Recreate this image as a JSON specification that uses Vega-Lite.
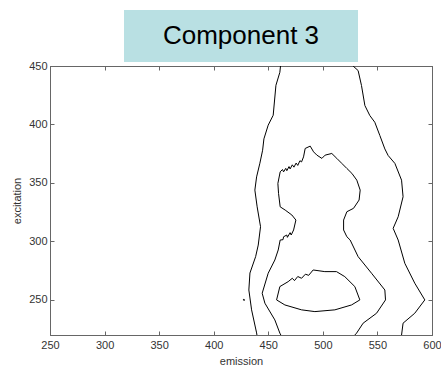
{
  "$schema": "https://vega.github.io/schema/vega-lite/v6.json",
  "padding": {"left": 11, "top": 10, "right": 0, "bottom": 0},
  "background": "white",
  "config": {"view": {"stroke": null}, "font": "Liberation Sans"},
  "spacing": 4,
  "center": true,
  "bounds": "flush",
  "datasets": {
    "contours": [
      {"c":"a","i":0,"em":461.2,"ex":450},{"c":"a","i":1,"em":460.6,"ex":444.6},{"c":"a","i":2,"em":457.0,"ex":433.5},{"c":"a","i":3,"em":454.5,"ex":407.9},{"c":"a","i":4,"em":449.9,"ex":399.4},{"c":"a","i":5,"em":446.0,"ex":387.7},{"c":"a","i":6,"em":444.8,"ex":378.0},{"c":"a","i":7,"em":442.3,"ex":366.9},{"c":"a","i":8,"em":439.3,"ex":355.2},{"c":"a","i":9,"em":437.7,"ex":343.9},{"c":"a","i":10,"em":439.8,"ex":329.6},{"c":"a","i":11,"em":442.9,"ex":312.6},{"c":"a","i":12,"em":440.8,"ex":296.9},{"c":"a","i":13,"em":438.4,"ex":287.0},{"c":"a","i":14,"em":433.2,"ex":273.0},{"c":"a","i":15,"em":432.2,"ex":258.5},{"c":"a","i":16,"em":434.7,"ex":241.5},{"c":"a","i":17,"em":439.3,"ex":221.8},{"c":"a","i":18,"em":439.6,"ex":220},
      {"c":"b","i":0,"em":527.7,"ex":450},{"c":"b","i":1,"em":532.3,"ex":446.1},{"c":"b","i":2,"em":535.4,"ex":433.3},{"c":"b","i":3,"em":538.5,"ex":416.2},{"c":"b","i":4,"em":543.0,"ex":407.7},{"c":"b","i":5,"em":547.6,"ex":401.9},{"c":"b","i":6,"em":552.2,"ex":390.6},{"c":"b","i":7,"em":556.8,"ex":379.1},{"c":"b","i":8,"em":559.8,"ex":373.5},{"c":"b","i":9,"em":566.0,"ex":366.7},{"c":"b","i":10,"em":572.1,"ex":352.4},{"c":"b","i":11,"em":573.5,"ex":338.2},{"c":"b","i":12,"em":569.0,"ex":321.1},{"c":"b","i":13,"em":564.4,"ex":311.2},{"c":"b","i":14,"em":569.0,"ex":301.2},{"c":"b","i":15,"em":575.1,"ex":281.3},{"c":"b","i":16,"em":584.2,"ex":264.3},{"c":"b","i":17,"em":593.4,"ex":250.0},{"c":"b","i":18,"em":584.2,"ex":238.6},{"c":"b","i":19,"em":573.5,"ex":230.1},{"c":"b","i":20,"em":572.1,"ex":220},
      {"c":"c","i":0,"em":461.5,"ex":220},{"c":"c","i":1,"em":460.6,"ex":221.6},{"c":"c","i":2,"em":456.0,"ex":232.9},{"c":"c","i":3,"em":446.9,"ex":247.2},{"c":"c","i":4,"em":444.4,"ex":255.7},{"c":"c","i":5,"em":449.9,"ex":272.8},{"c":"c","i":6,"em":456.0,"ex":284.1},{"c":"c","i":7,"em":459.1,"ex":292.7},{"c":"c","i":8,"em":460.9,"ex":301.2},{"c":"c","i":9,"em":463.5,"ex":301.5},{"c":"c","i":10,"em":464.0,"ex":304.0},{"c":"c","i":11,"em":467.0,"ex":305.5},{"c":"c","i":12,"em":467.5,"ex":303.5},{"c":"c","i":13,"em":470.0,"ex":307.5},{"c":"c","i":14,"em":471.0,"ex":305.5},{"c":"c","i":15,"em":473.2,"ex":309.8},{"c":"c","i":16,"em":475.3,"ex":318.3},{"c":"c","i":17,"em":471.6,"ex":322.6},{"c":"c","i":18,"em":465.5,"ex":326.8},{"c":"c","i":19,"em":460.9,"ex":329.6},{"c":"c","i":20,"em":459.4,"ex":341.1},{"c":"c","i":21,"em":458.8,"ex":349.6},{"c":"c","i":22,"em":460.9,"ex":359.5},{"c":"c","i":23,"em":463.0,"ex":361.5},{"c":"c","i":24,"em":464.0,"ex":359.5},{"c":"c","i":25,"em":466.0,"ex":362.5},{"c":"c","i":26,"em":467.0,"ex":360.5},{"c":"c","i":27,"em":469.0,"ex":364.0},{"c":"c","i":28,"em":470.0,"ex":362.0},{"c":"c","i":29,"em":472.0,"ex":365.5},{"c":"c","i":30,"em":473.5,"ex":363.5},{"c":"c","i":31,"em":475.5,"ex":367.0},{"c":"c","i":32,"em":477.0,"ex":365.0},{"c":"c","i":33,"em":479.0,"ex":369.0},{"c":"c","i":34,"em":480.5,"ex":368.0},{"c":"c","i":35,"em":482.3,"ex":372.3},{"c":"c","i":36,"em":483.8,"ex":379.5},{"c":"c","i":37,"em":488.4,"ex":381.5},{"c":"c","i":38,"em":491.5,"ex":376.6},{"c":"c","i":39,"em":494.5,"ex":373.8},{"c":"c","i":40,"em":499.1,"ex":371.0},{"c":"c","i":41,"em":502.1,"ex":373.8},{"c":"c","i":42,"em":508.2,"ex":375.2},{"c":"c","i":43,"em":512.8,"ex":371.0},{"c":"c","i":44,"em":517.4,"ex":366.7},{"c":"c","i":45,"em":522.0,"ex":362.4},{"c":"c","i":46,"em":526.6,"ex":358.2},{"c":"c","i":47,"em":531.1,"ex":352.4},{"c":"c","i":48,"em":534.2,"ex":343.9},{"c":"c","i":49,"em":533.2,"ex":335.4},{"c":"c","i":50,"em":528.1,"ex":328.3},{"c":"c","i":51,"em":522.0,"ex":325.4},{"c":"c","i":52,"em":519.0,"ex":318.3},{"c":"c","i":53,"em":519.0,"ex":309.8},{"c":"c","i":54,"em":522.0,"ex":304.0},{"c":"c","i":55,"em":525.0,"ex":301.2},{"c":"c","i":56,"em":532.3,"ex":287.0},{"c":"c","i":57,"em":544.6,"ex":272.8},{"c":"c","i":58,"em":556.8,"ex":258.5},{"c":"c","i":59,"em":557.4,"ex":250.0},{"c":"c","i":60,"em":549.2,"ex":238.6},{"c":"c","i":61,"em":536.9,"ex":230.1},{"c":"c","i":62,"em":530.9,"ex":221.6},{"c":"c","i":63,"em":529.3,"ex":220},
      {"c":"d","i":0,"em":457.6,"ex":250.0},{"c":"d","i":1,"em":460.6,"ex":261.4},{"c":"d","i":2,"em":468.2,"ex":265.6},{"c":"d","i":3,"em":472.0,"ex":268.5},{"c":"d","i":4,"em":474.0,"ex":266.5},{"c":"d","i":5,"em":477.0,"ex":270.0},{"c":"d","i":6,"em":480.5,"ex":268.5},{"c":"d","i":7,"em":484.0,"ex":272.0},{"c":"d","i":8,"em":487.0,"ex":271.0},{"c":"d","i":9,"em":491.1,"ex":275.6},{"c":"d","i":10,"em":501.8,"ex":274.2},{"c":"d","i":11,"em":512.5,"ex":274.2},{"c":"d","i":12,"em":520.1,"ex":269.9},{"c":"d","i":13,"em":529.3,"ex":261.4},{"c":"d","i":14,"em":533.9,"ex":250.0},{"c":"d","i":15,"em":526.3,"ex":245.7},{"c":"d","i":16,"em":511.0,"ex":241.5},{"c":"d","i":17,"em":492.7,"ex":240.0},{"c":"d","i":18,"em":480.5,"ex":241.5},{"c":"d","i":19,"em":465.2,"ex":245.7},{"c":"d","i":20,"em":457.6,"ex":250.0}
    ],
    "dot": [
      {"c":"e","i":0,"em":427.0,"ex":250.4},{"c":"e","i":1,"em":428.4,"ex":249.6}
    ]
  },
  "vconcat": [
    {
      "width": 234,
      "height": 52,
      "view": {"fill": "#b9e0e3", "stroke": null},
      "data": {"values": [{"title": "Component 3"}]},
      "mark": {"type": "text", "fontSize": 26, "baseline": "middle", "align": "center", "color": "black"},
      "encoding": {"text": {"field": "title"}}
    },
    {
      "width": 382,
      "height": 269,
      "view": {"stroke": "#666", "strokeWidth": 1},
      "layer": [
        {
          "data": {"name": "contours"},
          "mark": {"type": "line", "color": "black", "strokeWidth": 1, "clip": true},
          "encoding": {
            "x": {"field": "em", "type": "quantitative", "scale": {"domain": [250, 600], "nice": false, "zero": false},
              "axis": {"orient": "bottom", "title": "emission", "values": [250,300,350,400,450,500,550,600], "labelFlush": false, "labelOverlap": false, "grid": false, "tickSize": -4, "labelPadding": 8, "labelFontSize": 11, "labelColor": "#333", "titleFontSize": 11, "titleFontWeight": "normal", "titleColor": "#333", "titlePadding": 5, "domainColor": "#666", "tickColor": "#666"}},
            "y": {"field": "ex", "type": "quantitative", "scale": {"domain": [220, 450], "nice": false, "zero": false},
              "axis": {"orient": "left", "title": "excitation", "values": [250,300,350,400,450], "labelFlush": false, "labelOverlap": false, "grid": false, "tickSize": -4, "labelPadding": 7, "labelFontSize": 11, "labelColor": "#333", "titleFontSize": 11, "titleFontWeight": "normal", "titleColor": "#333", "titlePadding": 6, "domainColor": "#666", "tickColor": "#666"}},
            "detail": {"field": "c"},
            "order": {"field": "i", "type": "quantitative"}
          }
        },
        {
          "data": {"name": "dot"},
          "mark": {"type": "line", "color": "black", "strokeWidth": 1.5, "clip": true},
          "encoding": {
            "x": {"field": "em", "type": "quantitative", "scale": {"domain": [250, 600], "nice": false, "zero": false},
              "axis": {"orient": "top", "title": null, "labels": false, "values": [250,300,350,400,450,500,550,600], "grid": false, "tickSize": -4, "domainColor": "#666", "tickColor": "#666"}},
            "y": {"field": "ex", "type": "quantitative", "scale": {"domain": [220, 450], "nice": false, "zero": false},
              "axis": {"orient": "right", "title": null, "labels": false, "values": [250,300,350,400,450], "grid": false, "tickSize": -4, "domainColor": "#666", "tickColor": "#666"}},
            "order": {"field": "i", "type": "quantitative"}
          }
        }
      ]
    }
  ]
}
